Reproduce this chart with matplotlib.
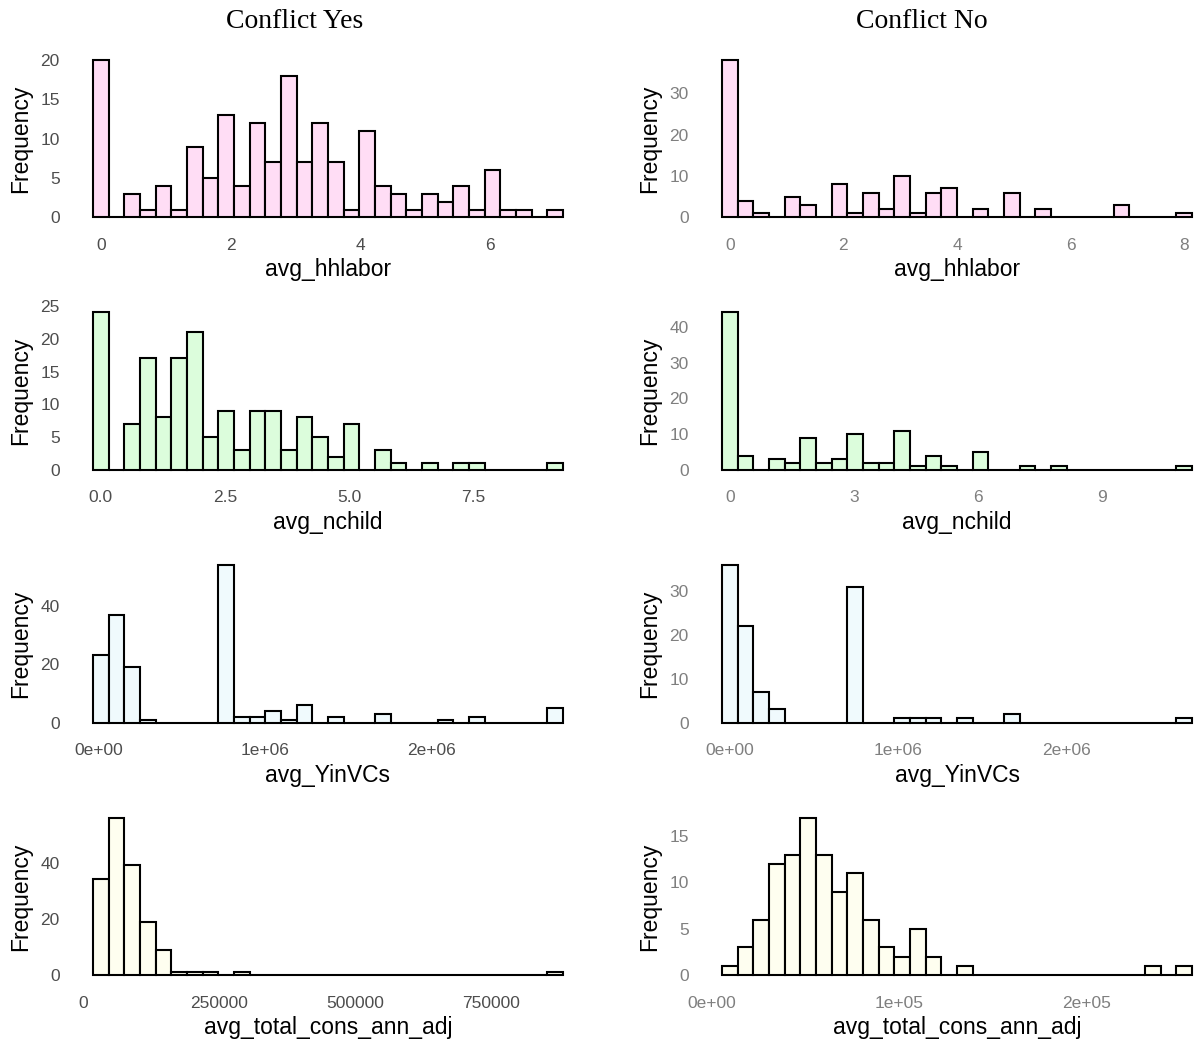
import numpy as np
import matplotlib
matplotlib.use('Agg')
import matplotlib.pyplot as plt

# histogram counts, 30 bins each
yes_hhlabor = [20, 0, 3, 1, 4, 1, 9, 5, 13, 4, 12, 7, 18, 7, 12, 7, 1, 11, 4, 3,
               1, 3, 2, 4, 1, 6, 1, 1, 0, 1]
no_hhlabor = [38, 4, 1, 0, 5, 3, 0, 8, 1, 6, 2, 10, 1, 6, 7, 0, 2, 0, 6, 0,
              2, 0, 0, 0, 0, 3, 0, 0, 0, 1]
yes_nchild = [24, 0, 7, 17, 8, 17, 21, 5, 9, 3, 9, 9, 3, 8, 5, 2, 7, 0, 3, 1,
              0, 1, 0, 1, 1, 0, 0, 0, 0, 1]
no_nchild = [44, 4, 0, 3, 2, 9, 2, 3, 10, 2, 2, 11, 1, 4, 1, 0, 5, 0, 0, 1,
             0, 1, 0, 0, 0, 0, 0, 0, 0, 1]
yes_yinvcs = [23, 37, 19, 1, 0, 0, 0, 0, 54, 2, 2, 4, 1, 6, 0, 2, 0, 0, 3, 0,
              0, 0, 1, 0, 2, 0, 0, 0, 0, 5]
no_yinvcs = [36, 22, 7, 3, 0, 0, 0, 0, 31, 0, 0, 1, 1, 1, 0, 1, 0, 0, 2, 0,
             0, 0, 0, 0, 0, 0, 0, 0, 0, 1]
yes_cons = [34, 56, 39, 19, 9, 1, 1, 1, 0, 1, 0, 0, 0, 0, 0, 0, 0, 0, 0, 0,
            0, 0, 0, 0, 0, 0, 0, 0, 0, 1]
no_cons = [1, 3, 6, 12, 13, 17, 13, 9, 11, 6, 3, 2, 5, 2, 0, 1, 0, 0, 0, 0,
           0, 0, 0, 0, 0, 0, 0, 1, 0, 1]

# centre of first and last bin
yes_ranges = [(0, 7.0), (0, 9.15), (1e4, 2.74e6), (32500, 868000)]
no_ranges = [(0, 8.0), (0, 11.0), (2e3, 2.695e6), (9700, 252000)]

variables = ['avg_hhlabor', 'avg_nchild', 'avg_YinVCs', 'avg_total_cons_ann_adj']
fills = ['#FFDDF5', '#DCFDDC', '#F0FAFD', '#FEFEF0']

yes_xticks = [[0, 2, 4, 6], [0, 2.5, 5, 7.5], [0, 1e6, 2e6], [0, 250000, 500000, 750000]]
yes_xlabels = [['0', '2', '4', '6'], ['0.0', '2.5', '5.0', '7.5'],
               ['0e+00', '1e+06', '2e+06'], ['0', '250000', '500000', '750000']]
no_xticks = [[0, 2, 4, 6, 8], [0, 3, 6, 9], [0, 1e6, 2e6], [0, 1e5, 2e5]]
no_xlabels = [['0', '2', '4', '6', '8'], ['0', '3', '6', '9'],
              ['0e+00', '1e+06', '2e+06'], ['0e+00', '1e+05', '2e+05']]
yes_yticks = [[0, 5, 10, 15, 20], [0, 5, 10, 15, 20, 25], [0, 20, 40], [0, 20, 40]]
no_yticks = [[0, 10, 20, 30], [0, 10, 20, 30, 40], [0, 10, 20, 30], [0, 5, 10, 15]]

yes_counts = [yes_hhlabor, yes_nchild, yes_yinvcs, yes_cons]
no_counts = [no_hhlabor, no_nchild, no_yinvcs, no_cons]

plt.rcParams['font.family'] = ['Liberation Sans', 'DejaVu Sans']

fig, axes = plt.subplots(4, 2, figsize=(11.96, 10.46), dpi=100)
fig.subplots_adjust(left=0.058, right=1.0163, top=0.9503, bottom=0.0602,
                    hspace=0.457, wspace=0.217)


def draw_hist(ax, counts, rng, fill, var, xt, xl, yt, tickcol):
    n = len(counts)
    lo, hi = rng
    w = (hi - lo) / (n - 1)
    centers = np.linspace(lo, hi, n)
    ax.bar(centers, counts, width=w, color=fill, edgecolor='black', linewidth=1.5)
    ymax = max(counts)
    ax.set_ylim(-0.05 * ymax, 1.05 * ymax)
    left = lo - w / 2
    right = hi + w / 2
    pad = 0.05 * (right - left)
    ax.set_xlim(left - pad, right + pad)
    ax.set_xticks(xt)
    ax.set_xticklabels(xl)
    ax.set_yticks(yt)
    for s in ax.spines.values():
        s.set_visible(False)
    ax.tick_params(length=0, labelsize=12.5, colors=tickcol)
    ax.tick_params(axis='x', pad=9)
    ax.tick_params(axis='y', pad=7)
    ax.set_xlabel(var, fontsize=16.5, labelpad=4)
    ax.set_ylabel('Frequency', fontsize=16.5, labelpad=6)


for i in range(4):
    draw_hist(axes[i, 0], yes_counts[i], yes_ranges[i], fills[i], variables[i],
              yes_xticks[i], yes_xlabels[i], yes_yticks[i], '#4D4D4D')
    draw_hist(axes[i, 1], no_counts[i], no_ranges[i], fills[i], variables[i],
              no_xticks[i], no_xlabels[i], no_yticks[i], '#7F7F7F')

fig.text(295 / 1196, 1 - 21 / 1046, 'Conflict Yes', ha='center', va='center',
         fontsize=20, family='Liberation Serif')
fig.text(922 / 1196, 1 - 21 / 1046, 'Conflict No', ha='center', va='center',
         fontsize=20, family='Liberation Serif')

fig.savefig('out.png', dpi=100)
